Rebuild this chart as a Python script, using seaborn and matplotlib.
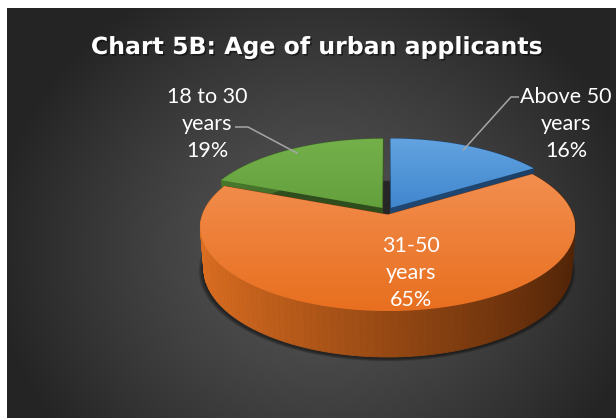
"""Chart 5B: Age of urban applicants -- Excel-style 3D exploded pie."""
import numpy as np
import matplotlib
import matplotlib.pyplot as plt
import matplotlib.patheffects as pe
import seaborn as sns
from matplotlib.patches import Polygon
from matplotlib.colors import to_rgb

matplotlib.use("Agg")

# --- data -------------------------------------------------------------
GROUPS = ["Above 50 years", "31-50 years", "18 to 30 years"]
SHARES = [16, 65, 19]  # percent
LABELS = ["Above 50\nyears", "31-50\nyears", "18 to 30\nyears"]
TITLE = "Chart 5B: Age of urban applicants"

# --- colours ----------------------------------------------------------
TOP_LIGHT = ["#62a3e0", "#f28e4f", "#74b04a"]
TOP_DARK = ["#4187cf", "#e86f1f", "#64a13d"]
SIDE_LIGHT = ["#2f5f93", "#de6f21", "#4a7a2e"]
SIDE_DARK = ["#1b3c61", "#4f2307", "#2c4a1b"]
FACE = ["#1f4670", "#7a3810", "#2f4d1d"]

# --- 3d projection setup ----------------------------------------------
PHI = np.radians(26.0)
COS_P, SIN_P = np.cos(PHI), np.sin(PHI)
FOCAL, DIST = 1093.0, 5.94
THICK = 0.25
EXPLODE = 0.045
CX, CY = 387.0, 211.0


def project(X, Y, Z):
    yc = Y * COS_P + Z * SIN_P
    d = DIST + Z * COS_P - Y * SIN_P
    return CX + FOCAL * X / d, CY - FOCAL * yc / d


def mix(c1, c2, w):
    a, b = np.array(to_rgb(c1)), np.array(to_rgb(c2))
    return tuple(a + (b - a) * w)


def set_style():
    sns.set_theme(style="dark")
    plt.rcParams.update({"font.family": ["Lato", "DejaVu Sans"]})


set_style()
fig = plt.figure(figsize=(6.16, 4.18), dpi=100, facecolor="white")
ax = fig.add_axes([0, 0, 1, 1])
ax.set_xlim(0, 616)
ax.set_ylim(418, 0)
ax.axis("off")

# background: dark radial gradient inside the chart area
yy, xx = np.mgrid[8:418, 7:616]
dist = np.hypot((xx - 320) / 330.0, (yy - 250) / 300.0)
light, dark = 0x55 / 255, 0x24 / 255
gray = np.clip(light - (light - dark) * dist ** 1.3, dark, light)
ax.imshow(np.dstack([gray] * 3), extent=(7, 616, 418, 8), zorder=0, aspect="auto")

# slice angles: clockwise from 12 o'clock
cum = np.concatenate([[0], np.cumsum(SHARES)])
starts = 90 - cum[:-1] * 3.6
ends = 90 - cum[1:] * 3.6
mids = np.radians((starts + ends) / 2)

# soft shadow under the pie
ring = np.radians(np.linspace(0, 360, 200))
for k in range(4):
    r = 1.0 + 0.006 * (4 - k)
    px, py = project(r * np.cos(ring), -THICK, r * np.sin(ring) - 0.04)
    ax.add_patch(Polygon(np.c_[px, py + 2], closed=True, fc="black",
                         ec="none", alpha=0.15, zorder=1))

order = np.argsort(-np.sin(mids))
z = 2
for i in order:
    ex, ez = EXPLODE * np.cos(mids[i]), EXPLODE * np.sin(mids[i])
    t = np.radians(np.linspace(ends[i], starts[i], 120))

    # radial cut faces
    for a in (t[0], t[-1]):
        X = np.array([0, np.cos(a), np.cos(a), 0]) + ex
        Z = np.array([0, np.sin(a), np.sin(a), 0]) + ez
        Y = np.array([0, 0, -THICK, -THICK])
        px, py = project(X, Y, Z)
        ax.add_patch(Polygon(np.c_[px, py], closed=True, fc=FACE[i], ec=FACE[i],
                             lw=0.5, zorder=z))
    z += 1

    # outer wall, drawn back to front with a left-to-right shade
    segs = list(range(len(t) - 1))
    segs.sort(key=lambda k: -np.sin((t[k] + t[k + 1]) / 2))
    for k in segs:
        ta, tb = t[k], t[k + 1]
        X = np.array([np.cos(ta), np.cos(tb), np.cos(tb), np.cos(ta)]) + ex
        Z = np.array([np.sin(ta), np.sin(tb), np.sin(tb), np.sin(ta)]) + ez
        Y = np.array([0, 0, -THICK, -THICK])
        px, py = project(X, Y, Z)
        w = (np.cos((ta + tb) / 2) + 1) / 2
        col = mix(SIDE_LIGHT[i], SIDE_DARK[i], w)
        ax.add_patch(Polygon(np.c_[px, py], closed=True, fc=col, ec=col,
                             lw=0.6, zorder=z))
    z += 1

    # top face with vertical gradient
    X = np.concatenate([[0], np.cos(t)]) + ex
    Z = np.concatenate([[0], np.sin(t)]) + ez
    px, py = project(X, np.zeros_like(X), Z)
    top = Polygon(np.c_[px, py], closed=True, fc="none", ec="none", zorder=z)
    ax.add_patch(top)
    g = np.linspace(0, 1, 64)
    grad = np.array([mix(TOP_LIGHT[i], TOP_DARK[i], v) for v in g])[:, None, :]
    grad = np.repeat(grad, 2, axis=1)
    im = ax.imshow(grad, extent=(px.min(), px.max(), py.max(), py.min()),
                   aspect="auto", zorder=z, interpolation="bilinear")
    im.set_clip_path(top)
    z += 1

# data labels
text_kw = dict(color="white", fontsize=15.5, ha="center", va="center",
               linespacing=1.45, zorder=50)
label_pos = {0: (566, 124), 1: (411, 273), 2: (207, 124)}
for i, (x, y) in label_pos.items():
    ax.text(x, y, f"{LABELS[i]}\n{SHARES[i]}%", **text_kw)

# leader lines for the two back slices
lead_start = {0: (519, 97), 2: (235, 127)}
for i, (sx, sy) in lead_start.items():
    ex, ez = EXPLODE * np.cos(mids[i]), EXPLODE * np.sin(mids[i])
    r = 0.92
    tx, ty = project(r * np.cos(mids[i]) + ex, 0.0, r * np.sin(mids[i]) + ez)
    step = -8 if i == 0 else 13
    ax.plot([sx, sx + step, tx], [sy, sy, ty], color="#a6a6a6", lw=1.1,
            solid_capstyle="butt", zorder=49)

ax.text(317, 47, TITLE, color="white", fontsize=17, fontweight="bold",
        family=["DejaVu Sans"], ha="center", va="center", zorder=50,
        path_effects=[pe.withSimplePatchShadow(offset=(1.2, -1.2),
                                               shadow_rgbFace="black", alpha=0.45)])

fig.savefig("out.png", dpi=100, facecolor="white")
plt.close(fig)
